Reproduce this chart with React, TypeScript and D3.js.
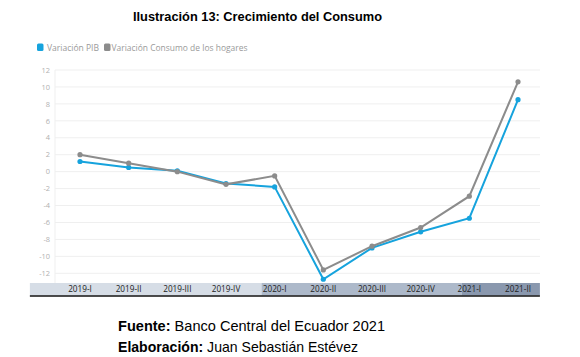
import React from "react";
import * as d3 from "d3";

const categories = ["2019-I", "2019-II", "2019-III", "2019-IV", "2020-I", "2020-II", "2020-III", "2020-IV", "2021-I", "2021-II"];
const pib = [1.2, 0.5, 0.1, -1.4, -1.8, -12.7, -9.0, -7.1, -5.5, 8.5];
const consumo = [2.0, 1.0, 0.0, -1.5, -0.5, -11.6, -8.8, -6.6, -2.9, 10.6];
const yTicks = [12, 10, 8, 6, 4, 2, 0, -2, -4, -6, -8, -10, -12];
const seriesNames = ["Variación PIB", "Variación Consumo de los hogares"];
const groupStarts = [-1.03, 3.73, 7.84];
const groupEnd = 9.45;
const groupColors = ["#d6dde6", "#adb9ca", "#8a98ae"];

const W = 580, H = 357;
const BLUE = "#16a3dd";
const GRAY = "#8c8c8c";

export default function App() {
  const x = d3.scalePoint<string>().domain(categories).range([80, 518]);
  const xi = d3.scaleLinear().domain([0, categories.length - 1]).range([80, 518]);
  const y = d3.scaleLinear().domain([-12, 12]).range([273.3, 70]);
  const line = d3.line<number>().x((_, i) => x(categories[i])!).y((d) => y(d));
  const bandTop = 283, bandBot = 295.5;
  const font = "'Open Sans', 'Noto Sans', sans-serif";
  const sans = "'Liberation Sans', Arial, sans-serif";
  const edges = [...groupStarts, groupEnd];
  return (
    <svg width={W} height={H} style={{ position: "absolute", left: 0, top: 0 }}>
      <rect width={W} height={H} fill="#fff" />
      <text x={133} y={21} textLength={249} lengthAdjust="spacingAndGlyphs" fontFamily={sans} fontWeight="bold" fontSize={13.5} fill="#000">
        Ilustración 13: Crecimiento del Consumo
      </text>
      {/* legend */}
      <rect x={37} y={43.5} width={6.5} height={7.5} rx={1.5} fill={BLUE} />
      <text x={47} y={50.5} fontFamily={font} fontSize={8.3} fill="#9a9a9a" textLength={52} lengthAdjust="spacingAndGlyphs">{seriesNames[0]}</text>
      <rect x={104} y={43.5} width={6.5} height={7.5} rx={1.5} fill={GRAY} />
      <text x={111.5} y={50.5} fontFamily={font} fontSize={8.3} fill="#9a9a9a" textLength={136} lengthAdjust="spacingAndGlyphs">{seriesNames[1]}</text>
      {/* grid */}
      {yTicks.map((t) => (
        <g key={t}>
          <line x1={55} x2={540} y1={y(t)} y2={y(t)} stroke="#efefef" strokeWidth={1} />
          <text x={50} y={y(t) + 2.7} textAnchor="end" fontFamily={font} fontSize={7.4} fill="#b0b0b0">{t}</text>
        </g>
      ))}
      <line x1={55} x2={55} y1={y(12)} y2={bandTop} stroke="#efefef" strokeWidth={1} />
      {/* bands */}
      {groupStarts.map((s, i) => (
        <rect key={i} x={xi(s)} y={bandTop} width={xi(edges[i + 1]) - xi(s)} height={bandBot - bandTop} fill={groupColors[i]} />
      ))}
      <line x1={xi(groupStarts[0])} x2={xi(groupEnd)} y1={bandBot + 0.5} y2={bandBot + 0.5} stroke="#111" strokeWidth={1.5} />
      {categories.map((c) => (
        <text key={c} x={x(c)} y={292.3} textAnchor="middle" fontFamily={font} fontSize={8.2} fill="#222">{c}</text>
      ))}
      {/* lines */}
      <path d={line(pib)!} fill="none" stroke={BLUE} strokeWidth={2} />
      {pib.map((v, i) => (
        <circle key={i} cx={x(categories[i])} cy={y(v)} r={2.6} fill={BLUE} />
      ))}
      <path d={line(consumo)!} fill="none" stroke={GRAY} strokeWidth={2} />
      {consumo.map((v, i) => (
        <circle key={i} cx={x(categories[i])} cy={y(v)} r={2.6} fill={GRAY} />
      ))}
      {/* footer */}
      <text x={118} y={330.5} fontFamily={sans} fontSize={14.5} fill="#000" textLength={267} lengthAdjust="spacingAndGlyphs">
        <tspan fontWeight="bold">Fuente:</tspan> Banco Central del Ecuador 2021
      </text>
      <text x={118} y={351.5} fontFamily={sans} fontSize={14.5} fill="#000" textLength={240} lengthAdjust="spacingAndGlyphs">
        <tspan fontWeight="bold">Elaboración:</tspan> Juan Sebastián Estévez
      </text>
    </svg>
  );
}
